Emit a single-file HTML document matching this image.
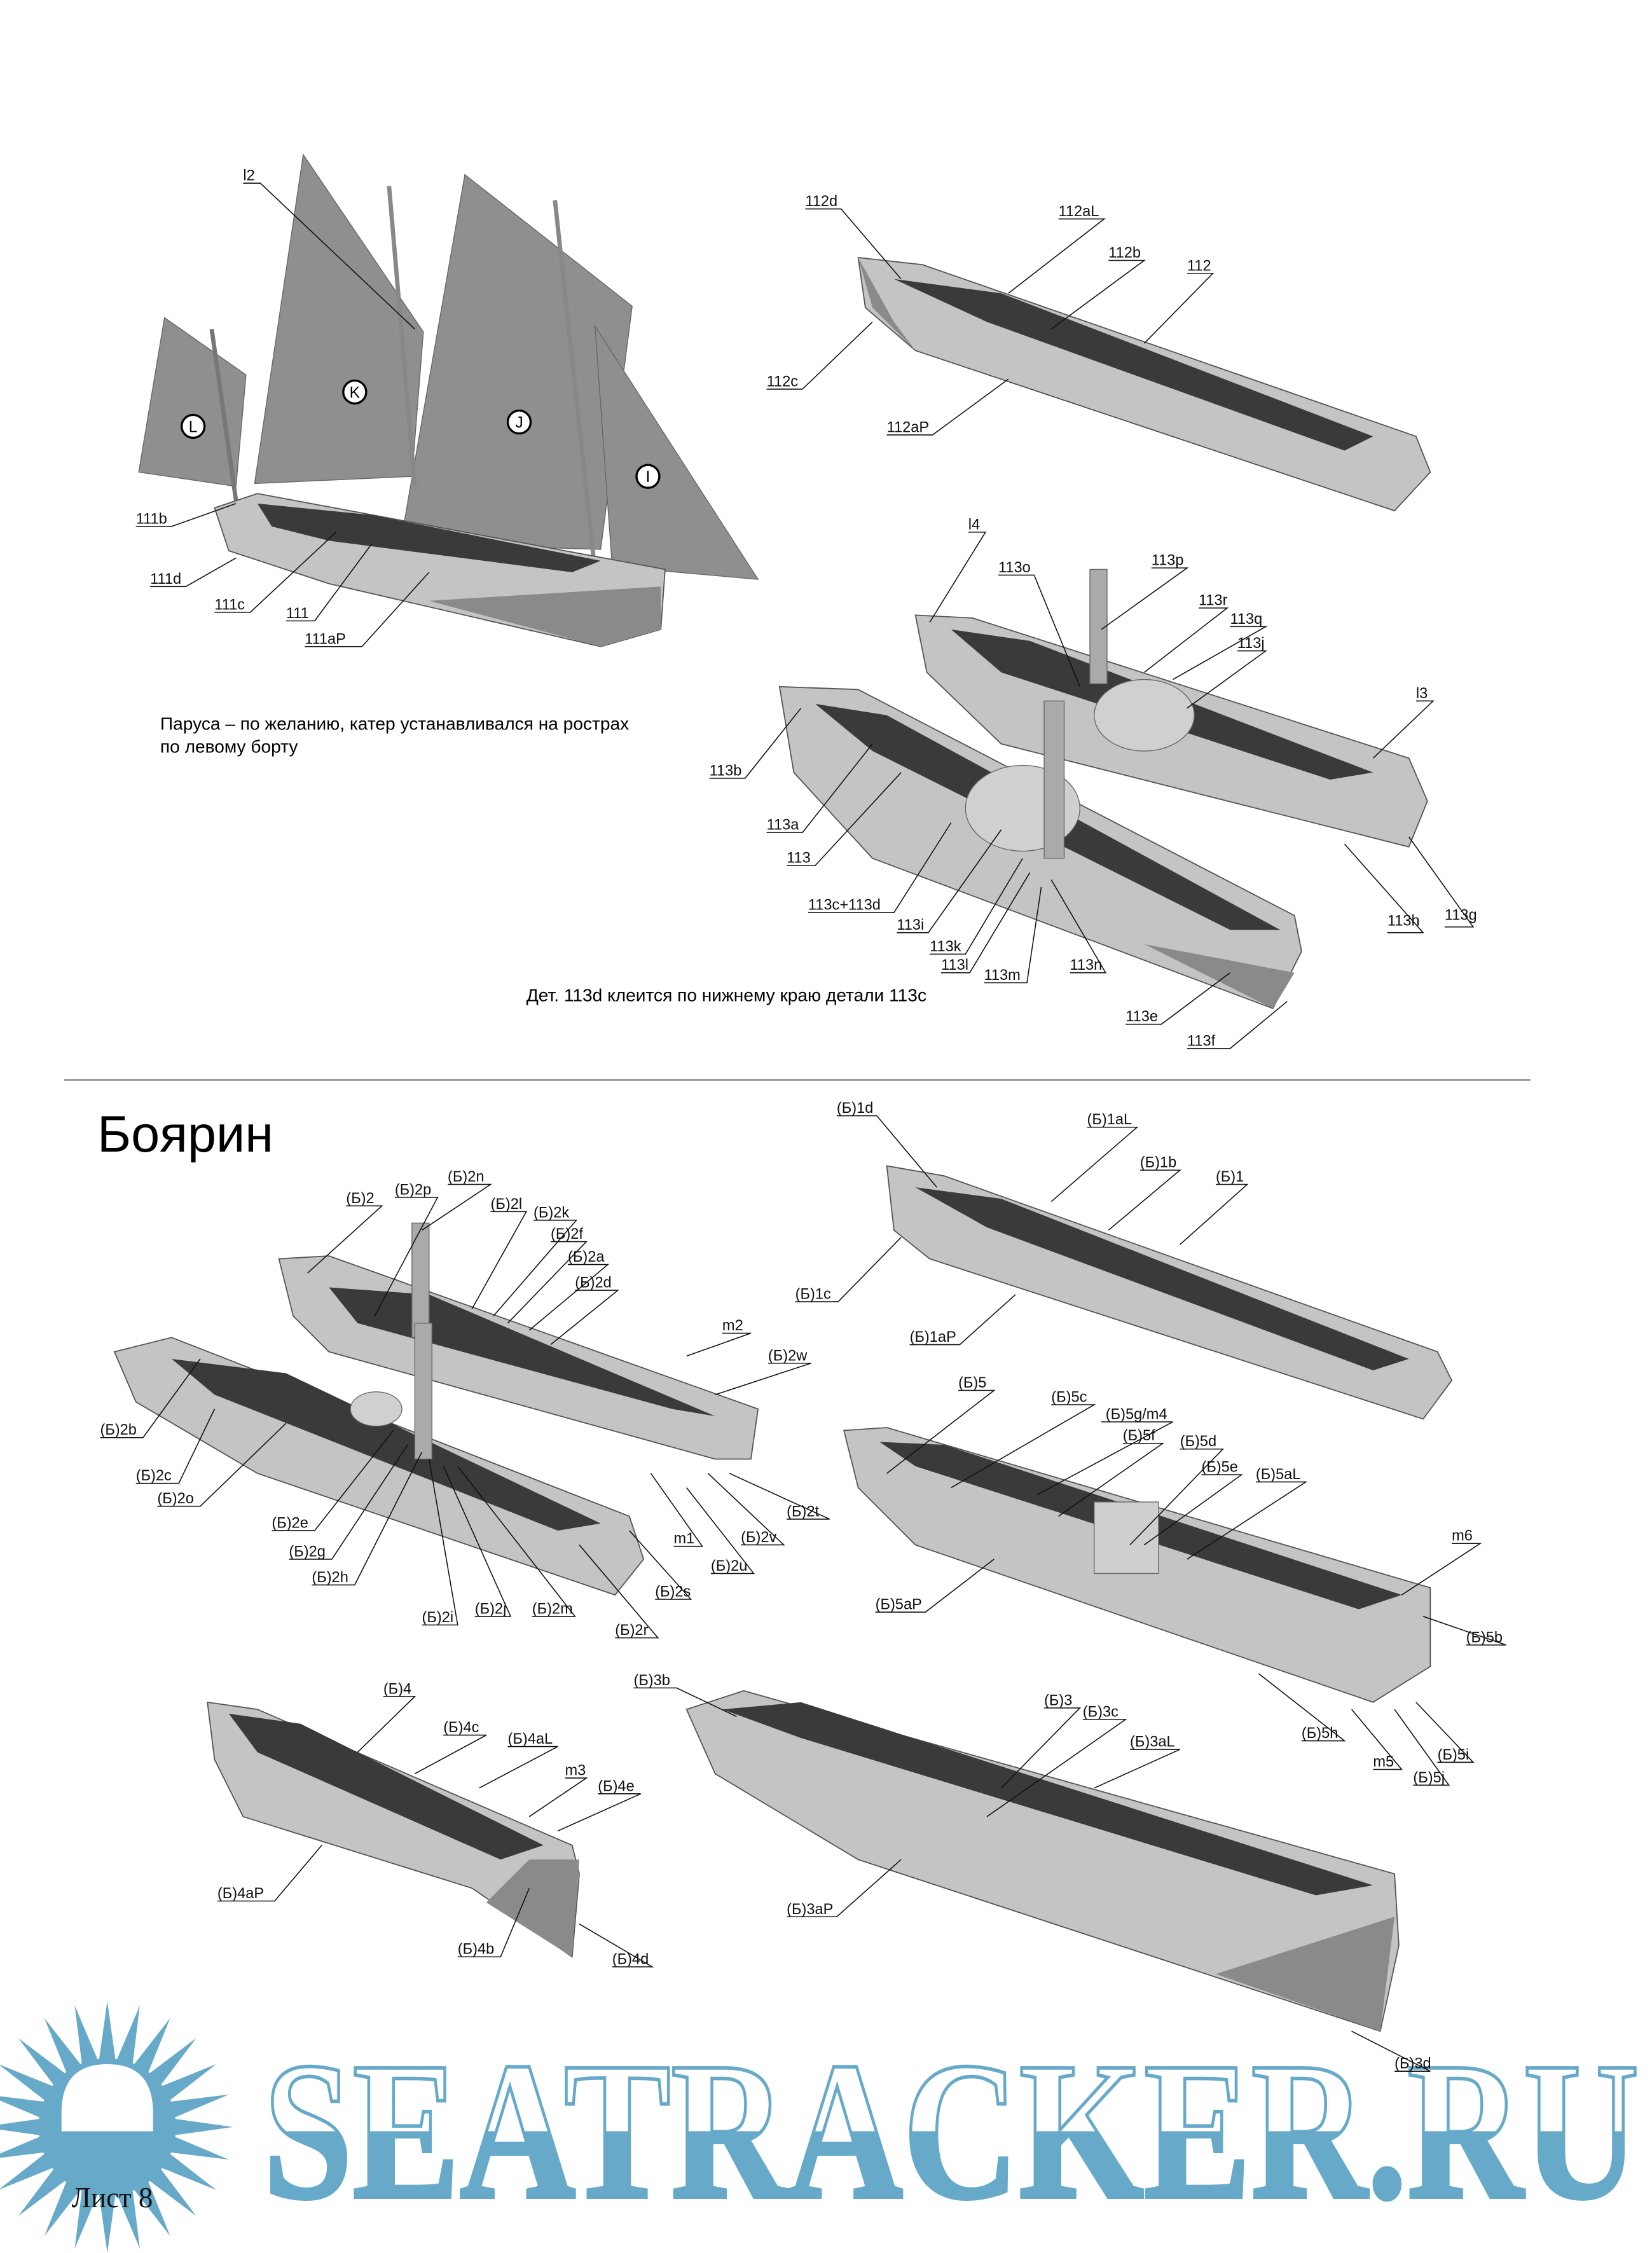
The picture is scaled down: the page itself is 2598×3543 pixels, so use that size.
<!DOCTYPE html>
<html><head><meta charset="utf-8"><style>
html,body{margin:0;padding:0;background:#fff}
svg{display:block}
.l{font-size:10.5px;fill:#111;font-family:"Liberation Sans","DejaVu Sans",sans-serif}
.t{font-family:"Liberation Sans","DejaVu Sans",sans-serif}
.ld{stroke:#111;stroke-width:0.7;fill:none}
.h{fill:#c4c4c4;stroke:#555;stroke-width:0.8}
.hd{fill:#8a8a8a}
.in{fill:#3a3a3a}
.s{fill:#8f8f8f;stroke:#666;stroke-width:0.6}
</style></head><body>
<svg width="2598" height="3543" viewBox="0 0 1155 1575" xmlns="http://www.w3.org/2000/svg">
<defs>
<linearGradient id="wg" gradientUnits="userSpaceOnUse" x1="0" y1="1444" x2="0" y2="1536"><stop offset="0.5" stop-color="#fff"/><stop offset="0.5" stop-color="#67a9c9"/></linearGradient>
<polygon id="sp" points="0,-88 7,-38 -7,-38" fill="#67a9c9"/>
</defs>

<!-- Logo -->
<g transform="translate(75,1487)">
<circle r="48" fill="#67a9c9"/>
<use href="#sp"/><use href="#sp" transform="rotate(15)"/><use href="#sp" transform="rotate(30)"/><use href="#sp" transform="rotate(45)"/>
<use href="#sp" transform="rotate(60)"/><use href="#sp" transform="rotate(75)"/><use href="#sp" transform="rotate(90)"/><use href="#sp" transform="rotate(105)"/>
<use href="#sp" transform="rotate(120)"/><use href="#sp" transform="rotate(135)"/><use href="#sp" transform="rotate(150)"/><use href="#sp" transform="rotate(165)"/>
<use href="#sp" transform="rotate(180)"/><use href="#sp" transform="rotate(195)"/><use href="#sp" transform="rotate(210)"/><use href="#sp" transform="rotate(225)"/>
<use href="#sp" transform="rotate(240)"/><use href="#sp" transform="rotate(255)"/><use href="#sp" transform="rotate(270)"/><use href="#sp" transform="rotate(285)"/>
<use href="#sp" transform="rotate(300)"/><use href="#sp" transform="rotate(315)"/><use href="#sp" transform="rotate(330)"/><use href="#sp" transform="rotate(345)"/>
<path d="M-32,3 L-32,-10 Q-32,-44 0,-44 Q32,-44 32,-10 L32,3 Z" fill="#fff"/>
</g>
<text x="184" y="1536" style="font-family:'Liberation Serif',serif;font-weight:bold;font-size:138px" textLength="962" lengthAdjust="spacingAndGlyphs" fill="url(#wg)" stroke="#67a9c9" stroke-width="2.5">SEATRACKER.RU</text>
<text x="50" y="1543" style="font-family:'Liberation Serif',serif;font-size:20px" fill="#111">Лист 8</text>

<!-- Sailboat 111 -->
<polygon class="s" points="97,330 115,222 172,262 165,340"/>
<polygon class="s" points="178,338 212,108 296,232 288,333"/>
<polygon class="s" points="280,380 325,122 442,214 420,384"/>
<polygon class="s" points="416,228 530,405 428,396" fill="#a5a5a5"/>
<line x1="148" y1="230" x2="165" y2="350" stroke="#777" stroke-width="3"/>
<line x1="272" y1="130" x2="290" y2="340" stroke="#888" stroke-width="3"/>
<line x1="388" y1="140" x2="415" y2="390" stroke="#888" stroke-width="3"/>
<polygon class="h" points="150,355 180,345 465,398 462,440 420,452 230,408 160,385"/>
<polygon class="in" points="180,352 260,360 420,392 400,400 230,378 190,368"/>
<polygon class="hd" points="300,420 462,410 462,440 420,452"/>
<circle cx="248" cy="274" r="8" fill="#fff" stroke="#000" stroke-width="1.5"/><text class="t" x="248" y="278" font-size="11" text-anchor="middle">K</text>
<circle cx="363" cy="295" r="8" fill="#fff" stroke="#000" stroke-width="1.5"/><text class="t" x="363" y="299" font-size="11" text-anchor="middle">J</text>
<circle cx="453" cy="333" r="8" fill="#fff" stroke="#000" stroke-width="1.5"/><text class="t" x="453" y="337" font-size="11" text-anchor="middle">I</text>
<circle cx="135" cy="298" r="8" fill="#fff" stroke="#000" stroke-width="1.5"/><text class="t" x="135" y="302" font-size="11" text-anchor="middle">L</text>

<text class="t" x="112" y="510" font-size="12.5">Паруса – по желанию,  катер устанавливался на рострах</text>
<text class="t" x="112" y="526" font-size="12.5">по левому борту</text>

<!-- Boat 112 -->
<polygon class="h" points="600,180 645,185 990,305 1000,330 975,357 640,245 605,215"/>
<polygon class="in" points="625,195 700,205 960,305 940,315 690,225"/>
<polygon class="hd" points="600,180 625,225 640,245 610,215"/>

<!-- Boat 113 top -->
<polygon class="h" points="640,430 680,432 985,530 998,560 985,592 700,520 648,470"/>
<polygon class="in" points="665,440 720,448 960,540 930,545 700,470"/>
<rect x="762" y="398" width="12" height="80" fill="#aaa" stroke="#666" stroke-width="0.6"/>
<ellipse cx="800" cy="500" rx="35" ry="25" fill="#d0d0d0" stroke="#666" stroke-width="0.6"/>
<!-- Boat 113 lower -->
<polygon class="h" points="545,480 600,482 905,640 910,665 890,705 610,600 555,540"/>
<polygon class="in" points="570,492 620,500 895,650 860,650 610,525"/>
<ellipse cx="715" cy="565" rx="40" ry="30" fill="#d0d0d0" stroke="#666" stroke-width="0.6"/>
<rect x="730" y="490" width="14" height="110" fill="#aaa" stroke="#666" stroke-width="0.6"/>
<polygon class="hd" points="800,660 905,680 890,705"/>

<text class="t" x="368" y="700" font-size="12.5">Дет. 113d клеится по нижнему краю детали 113с</text>

<line x1="45" y1="755" x2="1070" y2="755" stroke="#444" stroke-width="0.8"/>
<text class="t" x="68" y="805" font-size="36">Боярин</text>

<!-- (Б)1 -->
<polygon class="h" points="620,815 660,822 1005,945 1015,965 995,992 650,880 625,860"/>
<polygon class="in" points="640,830 700,838 985,950 960,958 690,858"/>
<!-- (Б)2 back -->
<polygon class="h" points="195,880 230,878 530,985 525,1020 500,1020 230,945 205,920"/>
<polygon class="in" points="230,900 300,905 500,990 470,985 250,925"/>
<rect x="288" y="855" width="12" height="80" fill="#aaa" stroke="#666" stroke-width="0.6"/>
<!-- (Б)2 front -->
<polygon class="h" points="80,945 120,935 440,1060 450,1090 430,1115 180,1030 95,980"/>
<polygon class="in" points="120,950 200,960 420,1065 390,1070 150,975"/>
<ellipse cx="263" cy="985" rx="18" ry="12" fill="#d0d0d0" stroke="#666" stroke-width="0.6"/>
<rect x="290" y="925" width="12" height="95" fill="#aaa" stroke="#666" stroke-width="0.6"/>
<!-- (Б)5 -->
<polygon class="h" points="590,1000 620,998 1000,1110 1000,1165 960,1190 640,1080 600,1040"/>
<polygon class="in" points="615,1008 660,1010 980,1115 950,1125 640,1025"/>
<rect x="765" y="1050" width="45" height="50" fill="#cfcfcf" stroke="#666" stroke-width="0.6"/>
<!-- (Б)4 -->
<polygon class="h" points="145,1190 180,1195 400,1290 405,1310 400,1368 330,1320 170,1270 150,1230"/>
<polygon class="in" points="160,1198 210,1205 380,1290 350,1300 180,1225"/>
<polygon class="hd" points="370,1300 405,1300 400,1368 340,1330"/>
<!-- (Б)3 -->
<polygon class="h" points="480,1195 520,1182 975,1310 978,1360 965,1420 600,1300 500,1240"/>
<polygon class="in" points="505,1195 560,1190 960,1318 920,1325 560,1215"/>
<polygon class="hd" points="850,1380 975,1340 965,1420"/>

<!-- Labels -->
<g class="ld">
<path d="M170,128h12 L290,230"/>
<path d="M95,368h25 L165,352"/><path d="M105,410h25 L165,390"/><path d="M150,428h25 L235,372"/>
<path d="M200,434h20 L260,380"/><path d="M213,452h40 L300,400"/>
<path d="M563,146h25 L630,195"/><path d="M740,153h32 L705,205"/><path d="M775,182h25 L735,230"/>
<path d="M830,191h18 L800,240"/><path d="M536,272h25 L610,225"/><path d="M620,304h32 L705,265"/>
<path d="M677,372h12 L650,435"/><path d="M698,402h25 L755,480"/><path d="M805,397h25 L770,440"/>
<path d="M838,425h20 L800,470"/><path d="M860,438h25 L820,475"/><path d="M865,455h20 L830,495"/>
<path d="M990,490h12 L960,530"/><path d="M496,544h25 L560,495"/><path d="M536,582h25 L610,520"/>
<path d="M550,605h20 L630,540"/><path d="M565,638h60 L665,575"/><path d="M627,652h22 L700,580"/>
<path d="M650,667h25 L715,600"/><path d="M658,680h20 L720,610"/><path d="M688,687h30 L728,620"/>
<path d="M748,680h25 L735,615"/><path d="M787,716h25 L860,680"/><path d="M830,733h30 L900,700"/>
<path d="M970,652h25 L940,590"/><path d="M1010,648h20 L985,585"/>
<path d="M585,780h28 L655,830"/><path d="M760,788h35 L735,840"/><path d="M797,818h28 L775,860"/>
<path d="M850,828h22 L825,870"/><path d="M556,910h30 L630,865"/><path d="M636,940h35 L710,905"/>
<path d="M242,843h25 L215,890"/><path d="M276,837h30 L262,920"/><path d="M313,828h30 L295,860"/>
<path d="M343,847h25 L330,915"/><path d="M373,853h30 L345,920"/><path d="M385,868h25 L355,925"/>
<path d="M397,884h28 L370,930"/><path d="M402,902h30 L385,940"/><path d="M505,932h20 L480,948"/>
<path d="M537,953h30 L500,975"/><path d="M70,1005h30 L140,950"/><path d="M95,1037h30 L150,985"/>
<path d="M110,1053h30 L200,995"/><path d="M190,1070h30 L275,1000"/><path d="M202,1090h30 L285,1010"/>
<path d="M218,1108h30 L295,1015"/><path d="M295,1136h25 L300,1020"/><path d="M332,1130h25 L310,1025"/>
<path d="M372,1130h30 L320,1025"/><path d="M430,1145h30 L405,1080"/><path d="M458,1118h25 L440,1070"/>
<path d="M471,1081h20 L455,1030"/><path d="M497,1100h30 L480,1040"/><path d="M518,1080h30 L495,1030"/>
<path d="M550,1062h30 L510,1030"/>
<path d="M670,972h25 L620,1030"/><path d="M735,982h30 L665,1040"/><path d="M770,994h50 L725,1045"/>
<path d="M785,1009h28 L740,1060"/><path d="M825,1013h30 L790,1080"/><path d="M840,1031h28 L800,1080"/>
<path d="M878,1036h35 L830,1090"/><path d="M612,1127h35 L695,1090"/><path d="M1015,1079h20 L980,1115"/>
<path d="M1025,1150h28 L995,1130"/><path d="M910,1217h30 L880,1170"/><path d="M960,1237h20 L945,1195"/>
<path d="M988,1248h25 L975,1195"/><path d="M1005,1232h25 L990,1190"/>
<path d="M268,1186h22 L250,1225"/><path d="M310,1213h30 L290,1240"/><path d="M355,1221h35 L335,1250"/>
<path d="M395,1243h15 L370,1270"/><path d="M418,1254h30 L390,1280"/><path d="M152,1329h40 L225,1290"/>
<path d="M320,1368h30 L370,1320"/><path d="M428,1375h28 L405,1345"/>
<path d="M443,1180h30 L515,1200"/><path d="M730,1194h25 L700,1250"/><path d="M757,1202h30 L690,1270"/>
<path d="M790,1223h35 L765,1250"/><path d="M550,1340h35 L630,1300"/><path d="M975,1448h25 L945,1420"/>
</g>
<g class="l">
<text x="170" y="126">l2</text><text x="95" y="366">111b</text><text x="105" y="408">111d</text><text x="150" y="426">111c</text>
<text x="200" y="432">111</text><text x="213" y="450">111aP</text>
<text x="563" y="144">112d</text><text x="740" y="151">112aL</text><text x="775" y="180">112b</text><text x="830" y="189">112</text>
<text x="536" y="270">112c</text><text x="620" y="302">112aP</text>
<text x="677" y="370">l4</text><text x="698" y="400">113o</text><text x="805" y="395">113p</text><text x="838" y="423">113r</text>
<text x="860" y="436">113q</text><text x="865" y="453">113j</text><text x="990" y="488">l3</text>
<text x="496" y="542">113b</text><text x="536" y="580">113a</text><text x="550" y="603">113</text><text x="565" y="636">113c+113d</text>
<text x="627" y="650">113i</text><text x="650" y="665">113k</text><text x="658" y="678">113l</text><text x="688" y="685">113m</text>
<text x="748" y="678">113n</text><text x="787" y="714">113e</text><text x="830" y="731">113f</text>
<text x="970" y="647">113h</text><text x="1010" y="643">113g</text>
<text x="585" y="778">(Б)1d</text><text x="760" y="786">(Б)1aL</text><text x="797" y="816">(Б)1b</text><text x="850" y="826">(Б)1</text>
<text x="556" y="908">(Б)1c</text><text x="636" y="938">(Б)1aP</text>
<text x="242" y="841">(Б)2</text><text x="276" y="835">(Б)2p</text><text x="313" y="826">(Б)2n</text><text x="343" y="845">(Б)2l</text>
<text x="373" y="851">(Б)2k</text><text x="385" y="866">(Б)2f</text><text x="397" y="882">(Б)2a</text><text x="402" y="900">(Б)2d</text>
<text x="505" y="930">m2</text><text x="537" y="951">(Б)2w</text><text x="70" y="1003">(Б)2b</text><text x="95" y="1035">(Б)2c</text>
<text x="110" y="1051">(Б)2o</text><text x="190" y="1068">(Б)2e</text><text x="202" y="1088">(Б)2g</text><text x="218" y="1106">(Б)2h</text>
<text x="295" y="1134">(Б)2i</text><text x="332" y="1128">(Б)2j</text><text x="372" y="1128">(Б)2m</text><text x="430" y="1143">(Б)2r</text>
<text x="458" y="1116">(Б)2s</text><text x="471" y="1079">m1</text><text x="497" y="1098">(Б)2u</text><text x="518" y="1078">(Б)2v</text>
<text x="550" y="1060">(Б)2t</text>
<text x="670" y="970">(Б)5</text><text x="735" y="980">(Б)5c</text><text x="773" y="992">(Б)5g/m4</text><text x="785" y="1007">(Б)5f</text>
<text x="825" y="1011">(Б)5d</text><text x="840" y="1029">(Б)5e</text><text x="878" y="1034">(Б)5aL</text><text x="612" y="1125">(Б)5aP</text>
<text x="1015" y="1077">m6</text><text x="1025" y="1148">(Б)5b</text><text x="910" y="1215">(Б)5h</text><text x="960" y="1235">m5</text>
<text x="988" y="1246">(Б)5j</text><text x="1005" y="1230">(Б)5i</text>
<text x="268" y="1184">(Б)4</text><text x="310" y="1211">(Б)4c</text><text x="355" y="1219">(Б)4aL</text><text x="395" y="1241">m3</text>
<text x="418" y="1252">(Б)4e</text><text x="152" y="1327">(Б)4aP</text><text x="320" y="1366">(Б)4b</text><text x="428" y="1373">(Б)4d</text>
<text x="443" y="1178">(Б)3b</text><text x="730" y="1192">(Б)3</text><text x="757" y="1200">(Б)3c</text><text x="790" y="1221">(Б)3aL</text>
<text x="550" y="1338">(Б)3aP</text><text x="975" y="1446">(Б)3d</text>
</g>
</svg>
</body></html>
